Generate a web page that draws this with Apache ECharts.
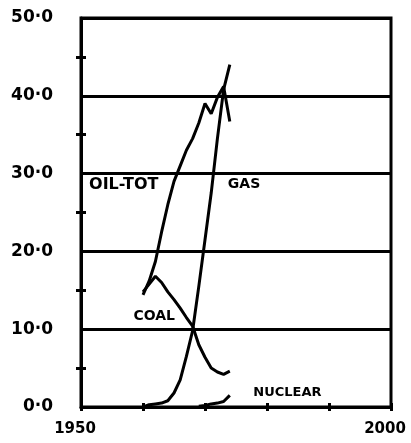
<!DOCTYPE html>
<html>
<head>
<meta charset="utf-8">
<script src="https://cdn.jsdelivr.net/npm/echarts@6/dist/echarts.min.js"></script>
<style>
html,body{margin:0;padding:0;background:#fff;}
#c{width:411px;height:443px;}
</style>
</head>
<body>
<div id="c"></div>
<script>
// Data (years, percent share)
const years = [1960,1961,1962,1963,1964,1965,1966,1967,1968,1969,1970,1971,1972,1973,1974];
const oilTot = [14.4,16.2,18.7,22.5,26.0,29.0,31.0,33.0,34.5,36.5,39.0,37.7,39.8,41.2,36.7];
const coal   = [14.8,15.8,16.8,16.0,14.8,13.8,12.7,11.5,10.4,8.0,6.4,5.0,4.5,4.2,4.6];
const gas    = [0.0,0.3,0.4,0.5,0.8,1.8,3.5,6.5,9.8,15.5,21.5,27.5,34.5,40.8,44.0];
const nuclearYears = [1969,1970,1971,1972,1973,1974];
const nuclear = [0.1,0.2,0.4,0.5,0.7,1.5];
const yTicks = ['0·0','10·0','20·0','30·0','40·0','50·0'];
const xTickLabels = {1950:'1950', 2000:'2000'};
const seriesNames = ['OIL-TOT','COAL','GAS','NUCLEAR'];

const FONT = '"DejaVu Sans", sans-serif';
const pair = (xs, ys) => xs.map((x,i)=>[x, ys[i]]);

function labelPoint(text, coord, size){
  return {
    symbol:'rect',
    symbolSize:1,
    silent:true,
    itemStyle:{color:'rgba(0,0,0,0)'},
    label:{show:true, position:'inside', formatter:text, color:'#000',
           fontFamily:FONT, fontWeight:'bold', fontSize:size},
    data:[{coord:coord, value:text}]
  };
}

const chart = echarts.init(document.getElementById('c'), null, {renderer:'canvas'});
const lineStyle = {color:'#000', width:3};
chart.setOption({
  backgroundColor:'#fff',
  animation:false,
  grid:{left:81, right:20, top:18, bottom:36, show:true, borderColor:'#000', borderWidth:3, outerBoundsMode:'none'},
  xAxis:[{
    type:'value', min:1950, max:2000, interval:10,
    axisLine:{show:true, onZero:false, lineStyle:{color:'#000', width:3}},
    axisTick:{show:true, length:4, lineStyle:{color:'#000', width:3}},
    splitLine:{show:false},
    axisLabel:{margin:15, color:'#000', fontFamily:FONT, fontWeight:'bold', fontSize:15,
      padding:[0,12,0,0],
      formatter:v=>xTickLabels[v]||''}
  },{
    type:'value', min:1950, max:2000, interval:10, position:'bottom',
    axisLine:{show:false}, axisTick:{show:true, inside:true, length:4, lineStyle:{color:'#000', width:3}},
    splitLine:{show:false}, axisLabel:{show:false}
  }],
  yAxis:[{
    type:'value', min:0, max:50, interval:10,
    axisLine:{show:true, onZero:false, lineStyle:{color:'#000', width:3}},
    axisTick:{show:false},
    minorTick:{show:true, splitNumber:2, length:5, lineStyle:{color:'#000', width:3}},
    splitLine:{show:true, lineStyle:{color:'#000', width:3}},
    axisLabel:{margin:28, color:'#000', fontFamily:FONT, fontWeight:'bold', fontSize:17,
      padding:[0,0,10,0],
      formatter:v=>yTicks[Math.round(v/10)]}
  },{
    type:'value', min:0, max:50, interval:5, position:'left',
    axisLine:{show:false}, axisTick:{show:true, inside:true, length:5, lineStyle:{color:'#000', width:3}},
    splitLine:{show:false}, axisLabel:{show:false}
  }],
  series:[
    {name:seriesNames[0], type:'line', data:pair(years, oilTot), symbol:'none', lineStyle:lineStyle,
     markPoint:labelPoint(seriesNames[0], [1956.9, 28.6], 16)},
    {name:seriesNames[1], type:'line', data:pair(years, coal), symbol:'none', lineStyle:lineStyle,
     markPoint:labelPoint(seriesNames[1], [1961.8, 11.6], 14)},
    {name:seriesNames[2], type:'line', data:pair(years, gas), symbol:'none', lineStyle:lineStyle,
     markPoint:labelPoint(seriesNames[2], [1976.3, 28.6], 14)},
    {name:seriesNames[3], type:'line', data:pair(nuclearYears, nuclear), symbol:'none', lineStyle:lineStyle,
     markPoint:labelPoint(seriesNames[3], [1983.3, 1.9], 13)}
  ]
});
</script>
</body>
</html>
